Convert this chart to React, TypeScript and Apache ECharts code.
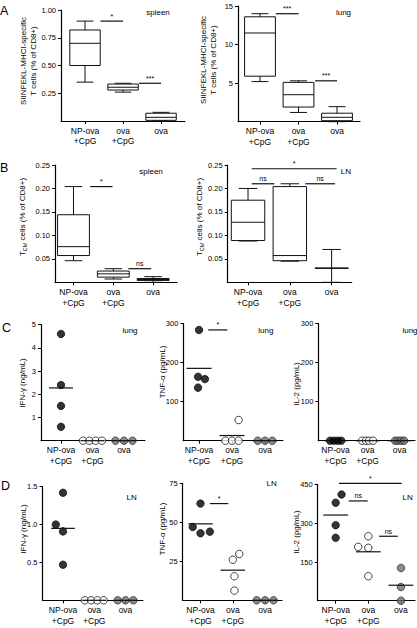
import React, { useEffect, useRef } from 'react';
import * as echarts from 'echarts';

const FONT = '"Liberation Sans", Arial, Helvetica, sans-serif';

// ---------- data ----------
const groups = ['NP-ova\n+CpG', 'ova\n+CpG', 'ova'];

// Box plots: [min, q1, median, q3, max] per group
const aSpleenBox = [
  [0.35, 0.5, 0.7, 0.82, 0.9],
  [0.26, 0.279, 0.304, 0.333, 0.34],
  [0.0, 0.006, 0.033, 0.07, 0.078],
];
const aLungBox = [
  [5.2, 5.9, 11.5, 13.6, 14.0],
  [1.2, 1.9, 3.5, 5.1, 5.3],
  [0, 0.13, 0.57, 1.1, 1.95],
];
const bSpleenBox = [
  [0.046, 0.057, 0.076, 0.144, 0.204],
  [0.007, 0.011, 0.018, 0.024, 0.029],
  [0.0, 0.004, 0.006, 0.008, 0.012],
];
const bLnBox = [
  [0.088, 0.089, 0.128, 0.175, 0.2],
  [0.045, 0.046, 0.057, 0.204, 0.21],
  [0, 0.03, 0.03, 0.03, 0.07],
];

// Dot plots: values per group
const cLungIfn = [[4.6, 2.4, 1.5, 0.6], [0, 0, 0, 0], [0, 0, 0]];
const cLungIfnJitter = [[0, 0, 0, 0], [-0.3, -0.1, 0.1, 0.3], [-0.27, 0, 0.27]];
const cLungTnf = [[284, 164, 158, 136], [53, 0, 0, 0], [0, 0, 0]];
const cLungTnfJitter = [[0, -0.03, 0.18, -0.03], [0.2, -0.2, 0, 0.2], [-0.22, 0, 0.22]];
const cLungIl2 = [[0, 0, 0, 0], [0, 0, 0, 0], [0, 0, 0, 0]];
const cLungIl2Jitter = [[-0.17, -0.05, 0.07, 0.18], [-0.17, -0.05, 0.05, 0.17], [-0.14, -0.05, 0.05, 0.14]];
const dLnIfn = [[1.42, 1.0, 0.91, 0.47], [0, 0, 0, 0], [0, 0, 0]];
const dLnIfnJitter = [[0, -0.23, 0, 0], [-0.3, -0.1, 0.1, 0.3], [-0.25, 0, 0.25]];
const dLnTnf = [[62, 47, 43, 44], [26, 29.7, 15.4, 6.2], [0, 0, 0]];
const dLnTnfJitter = [[0, -0.24, 0, 0.29], [0, 0.2, 0.05, 0.05], [-0.26, 0, 0.26]];
const dLnIl2 = [[412, 380, 293, 244], [209, 250, 205, 95], [127, 53, 0]];
const dLnIl2Jitter = [[0.18, 0, 0, 0], [-0.31, 0, 0, 0], [0, 0, 0]];

// Significance bars: [xFrom, xTo, y]
const aSpleenSig = [[0.41, 1.0, 0.9], [1.42, 2.0, 0.34]];
const aSpleenSigText = ['*', '***'];
const aLungSig = [[0.41, 1.0, 14.0], [1.43, 2.0, 5.3]];
const aLungSigText = ['***', '***'];
const bSpleenSig = [[0.42, 0.98, 0.204], [1.38, 1.95, 0.029]];
const bSpleenSigText = ['*', 'ns'];
const bLnSig = [[0.09, 2.12, 0.242], [0.09, 0.63, 0.21], [1.37, 2.08, 0.21]];
const bLnSigText = ['*', 'ns', 'ns'];
const cLungTnfSig = [[0.28, 0.86, 284]];
const cLungTnfSigText = ['*'];
const dLnTnfSig = [[0.29, 0.86, 62]];
const dLnTnfSigText = ['*'];
const dLnIl2Sig = [[0.1, 2.02, 455], [0.4, 0.98, 387], [1.33, 1.9, 250]];
const dLnIl2SigText = ['*', 'ns', 'ns'];

// Tick values
const aSpleenTicks = [0.25, 0.5, 0.75, 1.0];
const aLungTicks = [5, 10, 15];
const bTicks = [0.05, 0.1, 0.15, 0.2, 0.25];
const cIfnTicks = [1, 2, 3, 4, 5];
const cPgTicks = [100, 200, 300];
const dIfnTicks = [0.5, 1.0, 1.5];
const dTnfTicks = [25, 50, 75];
const dIl2Ticks = [150, 300, 450];

// ---------- layout ----------
type Panel = {
  left: number; top: number; width: number; height: number;
  xMin: number; xMax: number; ticks: number[]; dec: number;
  box?: number[][]; dots?: number[][]; jitter?: number[][];
  sig?: number[][]; sigText?: string[];
};

const panels: Panel[] = [
  { left: 61, top: 10, width: 124, height: 111, xMin: -0.632, xMax: 2.63, ticks: aSpleenTicks, dec: 2, box: aSpleenBox, sig: aSpleenSig, sigText: aSpleenSigText },
  { left: 238, top: 6, width: 122, height: 115.7, xMin: -0.571, xMax: 2.597, ticks: aLungTicks, dec: 0, box: aLungBox, sig: aLungSig, sigText: aLungSigText },
  { left: 55, top: 165, width: 122, height: 117.3, xMin: -0.465, xMax: 2.6, ticks: bTicks, dec: 2, box: bSpleenBox, sig: bSpleenSig, sigText: bSpleenSigText },
  { left: 227.7, top: 165, width: 124, height: 117.3, xMin: -0.486, xMax: 2.48, ticks: bTicks, dec: 2, box: bLnBox, sig: bLnSig, sigText: bLnSigText },
  { left: 41, top: 324.7, width: 104, height: 116, xMin: -0.635, xMax: 2.667, ticks: cIfnTicks, dec: 0, dots: cLungIfn, jitter: cLungIfnJitter },
  { left: 183.3, top: 323.7, width: 99.7, height: 117, xMin: -0.476, xMax: 2.545, ticks: cPgTicks, dec: 0, dots: cLungTnf, jitter: cLungTnfJitter, sig: cLungTnfSig, sigText: cLungTnfSigText },
  { left: 318.3, top: 323.7, width: 96.7, height: 117, xMin: -0.5375, xMax: 2.48, ticks: cPgTicks, dec: 0, dots: cLungIl2, jitter: cLungIl2Jitter },
  { left: 42.5, top: 486.7, width: 100.5, height: 113.6, xMin: -0.656, xMax: 2.56, ticks: dIfnTicks, dec: 1, dots: dLnIfn, jitter: dLnIfnJitter },
  { left: 182.7, top: 483.3, width: 99.3, height: 117, xMin: -0.551, xMax: 2.523, ticks: dTnfTicks, dec: 0, dots: dLnTnf, jitter: dLnTnfJitter, sig: dLnTnfSig, sigText: dLnTnfSigText },
  { left: 317.7, top: 484.7, width: 97.3, height: 116, xMin: -0.551, xMax: 2.43, ticks: dIl2Ticks, dec: 0, dots: dLnIl2, jitter: dLnIl2Jitter, sig: dLnIl2Sig, sigText: dLnIl2SigText },
];

const letters = [
  { t: 'A', x: 0, y: 11 }, { t: 'B', x: 0, y: 168 }, { t: 'C', x: 2, y: 328 }, { t: 'D', x: 1, y: 485.5 },
];
const regions = [
  { t: 'spleen', x: 158, y: 12 }, { t: 'lung', x: 343.5, y: 12 },
  { t: 'spleen', x: 151, y: 171.7 }, { t: 'LN', x: 345.8, y: 171.7 },
  { t: 'lung', x: 130, y: 330 }, { t: 'lung', x: 265.8, y: 330 }, { t: 'lung', x: 410, y: 330 },
  { t: 'LN', x: 131.7, y: 497 }, { t: 'LN', x: 271.7, y: 483 }, { t: 'LN', x: 407.7, y: 497 },
];
const TCM = '{t|T}{s|CM}{t| cells (% of CD8+)}';
const yTitles = [
  { t: 'SIINFEKL-MHCI-specific\nT cells (% of CD8+)', x: 28, y: 61 },
  { t: 'SIINFEKL-MHCI-specific\nT cells (% of CD8+)', x: 208, y: 60 },
  { t: TCM, x: 22, y: 217, rich: true },
  { t: TCM, x: 199, y: 217, rich: true },
  { t: 'IFN-\u03b3 (ng/mL)', x: 22, y: 383 },
  { t: 'TNF-\u03b1 (pg/mL)', x: 162, y: 372 },
  { t: 'IL-2 (pg/mL)', x: 296, y: 384 },
  { t: 'IFN-\u03b3 (ng/mL)', x: 23, y: 529 },
  { t: 'TNF-\u03b1 (pg/mL)', x: 162, y: 529 },
  { t: 'IL-2 (pg/mL)', x: 296, y: 532 },
];

const BOX_HALF = 0.4;
const MEAN_HALF = 0.38;
const INK = '#111';

const renderBox = (params: any, api: any) => {
  const x = api.value(0);
  const p = [1, 2, 3, 4, 5].map((d) => api.coord([x, api.value(d)]));
  const cx = p[0][0];
  const half = (api.coord([x + BOX_HALF, 0])[0] - api.coord([x - BOX_HALF, 0])[0]) / 2;
  const cap = half * 0.55;
  const st = { stroke: INK, lineWidth: 1, fill: null };
  const line = (x1: number, y1: number, x2: number, y2: number) => ({ type: 'line', shape: { x1, y1, x2, y2 }, style: st });
  return {
    type: 'group',
    children: [
      { type: 'rect', shape: { x: cx - half, y: p[3][1], width: 2 * half, height: p[1][1] - p[3][1] }, style: { stroke: INK, lineWidth: 1, fill: '#fff' } },
      line(cx - half, p[2][1], cx + half, p[2][1]),
      line(cx, p[3][1], cx, p[4][1]),
      line(cx, p[1][1], cx, p[0][1]),
      line(cx - cap, p[4][1], cx + cap, p[4][1]),
      line(cx - cap, p[0][1], cx + cap, p[0][1]),
    ],
  };
};

const renderMean = (params: any, api: any) => {
  const x = api.value(0);
  const y = api.value(1);
  const a = api.coord([x - MEAN_HALF, y]);
  const b = api.coord([x + MEAN_HALF, y]);
  return { type: 'line', shape: { x1: a[0], y1: a[1], x2: b[0], y2: b[1] }, style: { stroke: INK, lineWidth: 1.2 } };
};

const makeSig = (labels: string[]) => (params: any, api: any) => {
  const y = api.value(2);
  const a = api.coord([api.value(0), y]);
  const b = api.coord([api.value(1), y]);
  return {
    type: 'group',
    children: [
      { type: 'line', shape: { x1: a[0], y1: a[1], x2: b[0], y2: b[1] }, style: { stroke: INK, lineWidth: 1.2 } },
      {
        type: 'text', x: (a[0] + b[0]) / 2, y: a[1] - 1.5,
        style: { text: labels[params.dataIndex], fill: '#000', fontSize: 7, fontFamily: FONT, align: 'center', verticalAlign: 'bottom', textAlign: 'center', textVerticalAlign: 'bottom' },
      },
    ],
  };
};

function buildOption() {
  const grid: any[] = [];
  const xAxis: any[] = [];
  const yAxis: any[] = [];
  const series: any[] = [];
  panels.forEach((p, i) => {
    grid.push({ left: p.left, top: p.top, width: p.width, height: p.height, containLabel: false, outerBoundsMode: 'none' });
    xAxis.push({
      type: 'value', gridIndex: i, min: p.xMin, max: p.xMax,
      axisLine: { show: true, onZero: false, lineStyle: { color: '#000', width: 1.2 } },
      axisTick: { show: true, customValues: [0, 1, 2], length: 3, lineStyle: { color: '#000', width: 1 } },
      axisLabel: {
        customValues: [0, 1, 2], formatter: (v: number) => groups[Math.round(v)] ?? '',
        color: '#000', fontFamily: FONT, fontSize: 8.5, lineHeight: 10.5, margin: 4.5,
      },
      splitLine: { show: false },
    });
    yAxis.push({
      type: 'value', gridIndex: i, min: 0, max: p.ticks[p.ticks.length - 1],
      axisLine: { show: true, onZero: false, lineStyle: { color: '#000', width: 1.2 } },
      axisTick: { show: true, customValues: p.ticks, length: 3, lineStyle: { color: '#000', width: 1 } },
      axisLabel: {
        customValues: p.ticks, formatter: (v: number) => v.toFixed(p.dec),
        color: '#000', fontFamily: FONT, fontSize: 7.5, margin: 5,
      },
      splitLine: { show: false },
    });
    if (p.box) {
      series.push({
        type: 'custom', xAxisIndex: i, yAxisIndex: i, renderItem: renderBox,
        encode: { x: 0, y: [1, 2, 3, 4, 5] },
        data: p.box.map((b, g) => [g, ...b]), z: 3, silent: true,
      });
    }
    if (p.dots && p.jitter) {
      const styles = [
        { color: '#000', borderColor: '#000', borderWidth: 0.8 },
        { color: '#fff', borderColor: '#000', borderWidth: 0.9 },
        { color: '#6f6f6f', borderColor: '#222', borderWidth: 0.9 },
      ];
      p.dots.forEach((vals, g) => {
        series.push({
          type: 'scatter', xAxisIndex: i, yAxisIndex: i, symbol: 'circle', symbolSize: 7.5, clip: false,
          itemStyle: styles[g], z: 4, silent: true,
          data: vals.map((v, k) => [g + p.jitter![g][k], v]),
        });
      });
      series.push({
        type: 'custom', xAxisIndex: i, yAxisIndex: i, renderItem: renderMean, z: 5, silent: true,
        encode: { x: 0, y: 1 },
        data: p.dots.map((vals, g) => [g, vals.reduce((s, v) => s + v, 0) / vals.length]),
      });
    }
    if (p.sig && p.sigText) {
      series.push({
        type: 'custom', xAxisIndex: i, yAxisIndex: i, renderItem: makeSig(p.sigText), z: 5, silent: true,
        encode: { x: [0, 1], y: 2 },
        data: p.sig,
      });
    }
  });

  const graphic: any[] = [];
  letters.forEach((l) => graphic.push({
    type: 'text', x: l.x, y: l.y, silent: true,
    style: { text: l.t, fill: '#000', fontSize: 12.5, fontFamily: FONT, align: 'left', verticalAlign: 'middle', textAlign: 'left', textVerticalAlign: 'middle' },
  }));
  regions.forEach((r) => graphic.push({
    type: 'text', x: r.x, y: r.y, silent: true,
    style: { text: r.t, fill: '#000', fontSize: 8, fontFamily: FONT, align: 'center', verticalAlign: 'middle', textAlign: 'center', textVerticalAlign: 'middle' },
  }));
  yTitles.forEach((t) => {
    const style: any = {
      text: t.t, fill: '#000', fontSize: 8, fontFamily: FONT, lineHeight: 10,
      align: 'center', verticalAlign: 'middle', textAlign: 'center', textVerticalAlign: 'middle',
    };
    if (t.rich) {
      style.rich = {
        t: { fontSize: 8, fontFamily: FONT, lineHeight: 11, verticalAlign: 'middle', fill: '#000' },
        s: { fontSize: 5.5, fontFamily: FONT, lineHeight: 6, verticalAlign: 'bottom', fill: '#000' },
      };
    }
    graphic.push({ type: 'text', x: t.x, y: t.y, rotation: Math.PI / 2, silent: true, style });
  });

  return { animation: false, backgroundColor: '#fff', grid, xAxis, yAxis, series, graphic };
}

export default function App() {
  const ref = useRef<HTMLDivElement>(null);
  useEffect(() => {
    if (!ref.current) return;
    const chart = echarts.init(ref.current, undefined, { renderer: 'svg' });
    chart.setOption(buildOption() as any);
    return () => chart.dispose();
  }, []);
  return <div ref={ref} style={{ position: 'fixed', left: 0, top: 0, width: 417, height: 628, background: '#fff' }} />;
}
